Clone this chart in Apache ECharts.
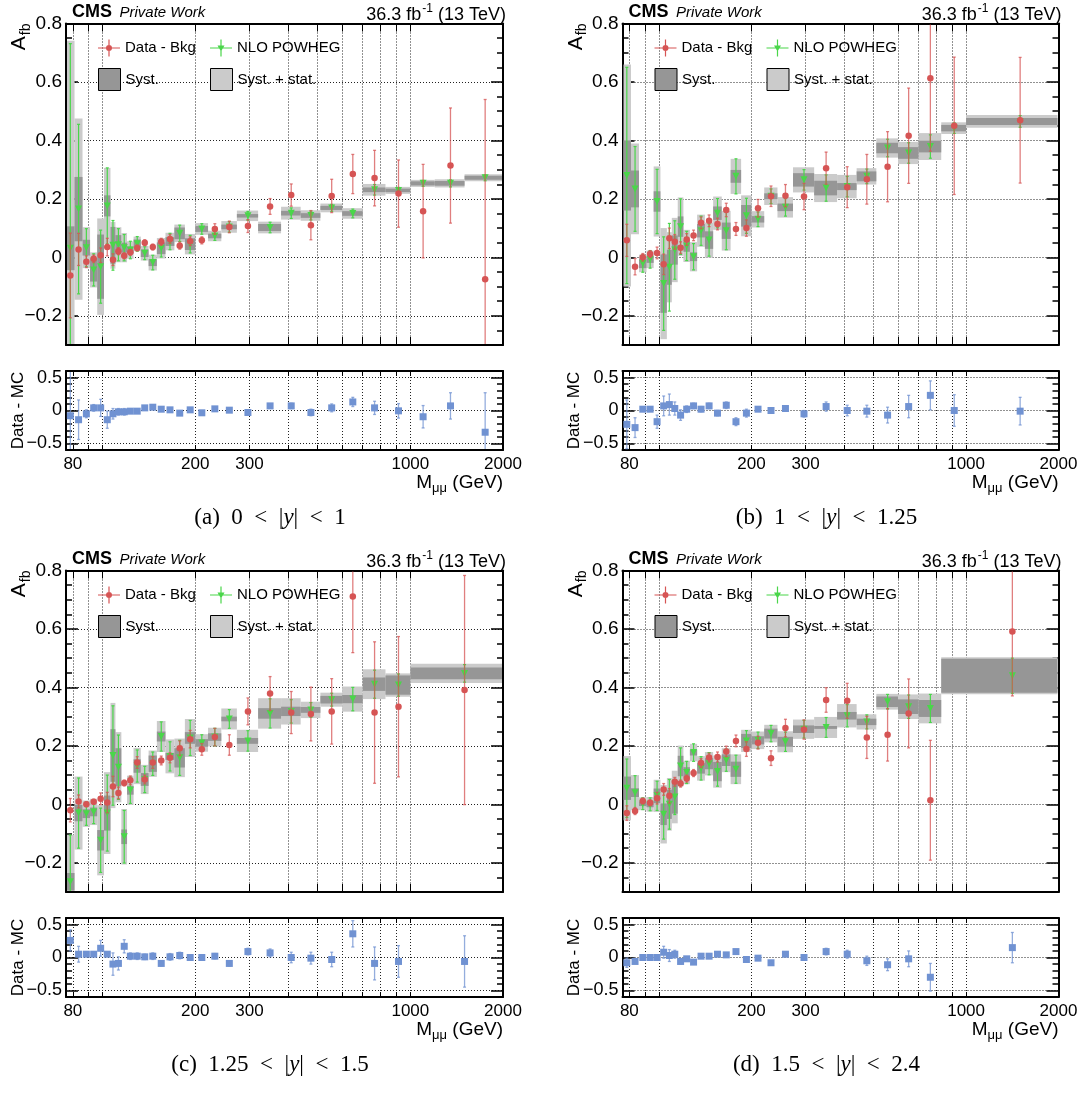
<!DOCTYPE html>
<html><head><meta charset="utf-8">
<script src="https://cdn.jsdelivr.net/npm/echarts@6/dist/echarts.min.js"></script>
<style>html,body{margin:0;padding:0;background:#fff}#c{width:1083px;height:1093px}</style>
</head><body><div id="c"></div><script>
// ---------------- data ----------------
const edgesA = [76,81,86,91,96,101,106,110,115,120,126,133,141,150,160,171,185,200,220,243,273,320,380,440,510,600,700,830,1000,1200,1500,2000];
const edgesB = [76,81,86,91,96,101,106,110,115,120,126,133,141,150,160,171,185,200,220,243,273,320,380,440,510,600,700,830,1000,2000];
const edgesC = [76,81,86,91,96,101,106,110,115,120,126,133,141,150,160,171,185,200,220,243,273,320,380,440,510,600,700,830,1000,2000];
const edgesD = [76,81,86,91,96,101,106,110,115,120,126,133,141,150,160,171,185,200,220,243,273,320,380,440,510,600,700,830,2000];

const dataA = [-0.062,0.027,-0.015,-0.005,0.007,0.035,-0.008,0.021,0.005,0.017,0.032,0.05,0.035,0.053,0.063,0.04,0.055,0.058,0.097,0.104,0.107,0.174,0.213,0.11,0.21,0.285,0.271,0.218,0.158,0.314,-0.075];
const dataErrA = [0.145,0.055,0.02,0.013,0.025,0.03,0.02,0.012,0.01,0.01,0.01,0.01,0.01,0.012,0.015,0.012,0.015,0.012,0.018,0.02,0.022,0.027,0.038,0.05,0.057,0.067,0.095,0.115,0.16,0.197,0.615];
const mcA = [0.031,0.165,0.033,-0.043,-0.032,0.176,0.041,0.043,0.033,0.025,0.046,0.014,-0.018,0.031,0.054,0.082,0.045,0.097,0.073,0.104,0.142,0.102,0.151,0.143,0.169,0.15,0.231,0.229,0.253,0.253,0.272];
const mcErrA = [0.7,0.29,0.065,0.055,0.125,0.13,0.085,0.055,0.045,0.03,0.025,0.022,0.025,0.03,0.028,0.028,0.03,0.018,0.015,0.018,0.015,0.018,0.018,0.015,0.012,0.015,0.018,0.01,0.01,0.012,0.01];
const systA = [0.075,0.11,0.027,0.04,0.11,0.036,0.063,0.033,0.017,0.012,0.015,0.013,0.012,0.02,0.015,0.02,0.02,0.01,0.008,0.008,0.006,0.012,0.008,0.008,0.007,0.008,0.008,0.006,0.007,0.008,0.007];
const totA = [0.71,0.31,0.07,0.06,0.165,0.13,0.08,0.06,0.05,0.03,0.025,0.025,0.027,0.035,0.03,0.03,0.035,0.02,0.018,0.02,0.018,0.02,0.022,0.018,0.015,0.018,0.02,0.012,0.012,0.014,0.012];
const ratioA = [-0.08,-0.14,-0.05,0.04,0.04,-0.14,-0.05,-0.02,-0.02,-0.01,-0.01,0.04,0.05,0.02,0.01,-0.04,0.01,-0.035,0.025,0.005,-0.03,0.07,0.07,-0.03,0.04,0.13,0.04,-0.005,-0.095,0.07,-0.33];
const ratioErrA = [0.7,0.3,0.06,0.05,0.13,0.13,0.08,0.05,0.05,0.03,0.02,0.02,0.02,0.02,0.02,0.02,0.02,0.02,0.02,0.02,0.02,0.03,0.04,0.05,0.06,0.07,0.1,0.11,0.17,0.2,0.6];

const dataB = [0.058,-0.032,0.0,0.011,0.015,-0.024,0.065,0.053,0.033,0.061,0.075,0.118,0.125,0.114,0.162,0.097,0.1,0.168,0.209,0.211,0.208,0.305,0.24,0.267,0.31,0.416,0.613,0.45,0.469];
const dataErrB = [0.055,0.028,0.013,0.012,0.02,0.035,0.035,0.025,0.02,0.02,0.018,0.02,0.02,0.02,0.023,0.022,0.028,0.03,0.035,0.038,0.045,0.055,0.07,0.085,0.12,0.163,0.25,0.235,0.215];
const mcB = [0.28,0.234,-0.021,-0.007,0.191,-0.09,-0.034,0.025,0.105,0.039,0.002,0.091,0.059,0.151,0.091,0.277,0.142,0.13,0.209,0.171,0.265,0.237,0.242,0.277,0.374,0.357,0.379,0.442,0.465];
const mcErrB = [0.37,0.145,0.03,0.03,0.11,0.16,0.15,0.1,0.095,0.05,0.045,0.05,0.055,0.05,0.065,0.06,0.06,0.025,0.025,0.03,0.035,0.045,0.035,0.025,0.03,0.035,0.04,0.018,0.02];
const systB = [0.12,0.063,0.016,0.012,0.035,0.1,0.06,0.05,0.035,0.02,0.015,0.023,0.03,0.023,0.028,0.022,0.037,0.011,0.01,0.013,0.023,0.025,0.012,0.017,0.018,0.02,0.02,0.011,0.012];
const totB = [0.38,0.155,0.03,0.03,0.12,0.19,0.12,0.11,0.1,0.055,0.05,0.055,0.06,0.057,0.068,0.06,0.07,0.028,0.03,0.035,0.043,0.048,0.04,0.028,0.033,0.038,0.046,0.02,0.022];
const ratioB = [-0.21,-0.26,0.02,0.02,-0.17,0.07,0.09,0.03,-0.07,0.02,0.07,0.02,0.07,-0.04,0.08,-0.17,-0.04,0.02,0.0,0.03,-0.05,0.06,0.0,-0.01,-0.07,0.06,0.23,0.0,-0.01];
const ratioErrB = [0.37,0.15,0.03,0.03,0.1,0.15,0.16,0.1,0.08,0.05,0.04,0.04,0.04,0.04,0.05,0.06,0.06,0.03,0.04,0.04,0.05,0.07,0.08,0.09,0.12,0.17,0.22,0.24,0.21];

const dataC = [-0.02,0.01,0.0,0.009,0.019,0.006,0.061,0.039,0.073,0.082,0.143,0.085,0.143,0.15,0.159,0.192,0.223,0.188,0.23,0.203,0.318,0.379,0.314,0.309,0.318,0.711,0.314,0.334,0.391];
const dataErrC = [0.04,0.022,0.008,0.008,0.02,0.035,0.035,0.02,0.01,0.015,0.02,0.015,0.02,0.015,0.017,0.025,0.03,0.02,0.03,0.035,0.046,0.058,0.072,0.092,0.112,0.192,0.242,0.24,0.392];
const mcC = [-0.265,-0.03,-0.032,-0.026,-0.123,-0.03,0.167,0.127,-0.111,0.048,0.131,0.085,0.139,0.232,0.164,0.159,0.227,0.21,0.23,0.292,0.217,0.311,0.318,0.323,0.358,0.36,0.411,0.408,0.448];
const mcErrC = [0.16,0.12,0.04,0.04,0.11,0.13,0.17,0.11,0.09,0.045,0.055,0.045,0.04,0.05,0.05,0.06,0.06,0.028,0.03,0.032,0.035,0.05,0.04,0.025,0.022,0.04,0.048,0.038,0.03];
const systC = [0.03,0.028,0.015,0.015,0.035,0.06,0.09,0.065,0.025,0.015,0.023,0.022,0.028,0.017,0.012,0.033,0.02,0.013,0.013,0.008,0.01,0.018,0.016,0.01,0.013,0.014,0.023,0.033,0.02];
const totC = [0.16,0.125,0.045,0.045,0.12,0.14,0.18,0.12,0.095,0.05,0.062,0.05,0.045,0.053,0.058,0.066,0.065,0.03,0.032,0.036,0.038,0.052,0.045,0.028,0.024,0.043,0.051,0.04,0.033];
const ratioC = [0.26,0.05,0.05,0.05,0.14,0.05,-0.1,-0.09,0.17,0.02,0.02,0.01,0.02,-0.09,0.01,0.03,0.0,0.0,0.02,-0.09,0.09,0.07,0.0,-0.01,-0.03,0.36,-0.09,-0.06,-0.06];
const ratioErrC = [0.16,0.12,0.02,0.02,0.12,0.03,0.17,0.1,0.1,0.05,0.05,0.04,0.05,0.04,0.05,0.05,0.03,0.03,0.04,0.04,0.05,0.06,0.08,0.09,0.11,0.2,0.25,0.24,0.39];

const dataD = [-0.03,-0.023,0.011,0.005,0.021,0.051,0.029,0.077,0.071,0.088,0.107,0.141,0.16,0.162,0.181,0.217,0.189,0.211,0.158,0.261,0.256,0.357,0.354,0.229,0.238,0.311,0.014,0.591];
const dataErrD = [0.025,0.012,0.01,0.01,0.02,0.02,0.025,0.015,0.012,0.012,0.012,0.015,0.015,0.017,0.018,0.02,0.025,0.022,0.025,0.03,0.033,0.042,0.06,0.072,0.09,0.118,0.205,0.22];
const mcD = [0.055,0.04,0.002,0.0,0.029,-0.034,0.0,0.025,0.131,0.109,0.177,0.123,0.139,0.112,0.151,0.12,0.217,0.219,0.242,0.214,0.257,0.263,0.303,0.282,0.351,0.334,0.328,0.44];
const mcErrD = [0.1,0.058,0.02,0.022,0.05,0.085,0.085,0.06,0.062,0.038,0.03,0.04,0.038,0.05,0.038,0.048,0.035,0.028,0.028,0.033,0.03,0.034,0.038,0.024,0.025,0.04,0.048,0.06];
const systD = [0.04,0.015,0.008,0.01,0.025,0.037,0.05,0.057,0.035,0.018,0.01,0.018,0.019,0.033,0.02,0.026,0.024,0.014,0.017,0.017,0.013,0.005,0.013,0.011,0.018,0.025,0.029,0.058];
const totD = [0.11,0.06,0.022,0.025,0.055,0.1,0.09,0.09,0.07,0.04,0.03,0.042,0.04,0.055,0.041,0.051,0.038,0.03,0.03,0.036,0.033,0.036,0.04,0.026,0.027,0.042,0.051,0.063];
const ratioD = [-0.08,-0.06,0.0,0.0,0.0,0.08,0.03,0.05,-0.06,-0.02,-0.07,0.02,0.02,0.05,0.04,0.09,-0.03,-0.01,-0.08,0.05,0.0,0.09,0.05,-0.05,-0.11,-0.02,-0.3,0.15];
const ratioErrD = [0.07,0.03,0.02,0.02,0.03,0.09,0.09,0.06,0.04,0.03,0.02,0.03,0.03,0.03,0.03,0.03,0.03,0.03,0.03,0.03,0.04,0.05,0.06,0.07,0.09,0.12,0.21,0.23];

const xTickValues = [80,90,100,200,300,400,500,600,700,800,900,1000,2000];
const xLabelValues = [80,200,300,1000,2000];
const yMainLabels = [-0.2,0,0.2,0.4,0.6,0.8];
const yRatioLabels = [-0.5,0,0.5];
const captions = [['(a)','0','1'],['(b)','1','1.25'],['(c)','1.25','1.5'],['(d)','1.5','2.4']];

// ---------------- styling / layout ----------------
const FONT = '"Liberation Sans", Arial, Helvetica, sans-serif';
const SERIF = '"Liberation Serif", "DejaVu Serif", serif';
const RED = '#d65454', GREEN = '#4ad64a', BLUE = '#7092d2', DARK = '#969696', LIGHT = '#cbcbcb';
const layout = [{L:66,T:23.5,W:437},{L:622.5,T:23.5,W:436},{L:66,T:570.5,W:437},{L:622.5,T:570.5,W:436}];
const MAIN_H = 321.5, RATIO_OFF = 347.5, RATIO_H = 79;

const panels = [
  {edges:edgesA,data:dataA,dataErr:dataErrA,mc:mcA,mcErr:mcErrA,syst:systA,tot:totA,ratio:ratioA,ratioErr:ratioErrA},
  {edges:edgesB,data:dataB,dataErr:dataErrB,mc:mcB,mcErr:mcErrB,syst:systB,tot:totB,ratio:ratioB,ratioErr:ratioErrB},
  {edges:edgesC,data:dataC,dataErr:dataErrC,mc:mcC,mcErr:mcErrC,syst:systC,tot:totC,ratio:ratioC,ratioErr:ratioErrC},
  {edges:edgesD,data:dataD,dataErr:dataErrD,mc:mcD,mcErr:mcErrD,syst:systD,tot:totD,ratio:ratioD,ratioErr:ratioErrD}
];

const yMainMinor = []; for (let i = -6; i <= 16; i++) yMainMinor.push(+(i * 0.05).toFixed(2));
const yRatioMinor = []; for (let i = -6; i <= 6; i++) yRatioMinor.push(+(i * 0.1).toFixed(2));

function fmtY(v) { if (Math.abs(v) < 1e-9) return '0'; return v < 0 ? '\u2212' + (+(-v).toFixed(2)) : '' + (+v.toFixed(2)); }

function renderBox(params, api) {
  const lo = api.value(0), hi = api.value(1), c = api.value(2), h = api.value(3);
  const p1 = api.coord([lo, c + h]), p2 = api.coord([hi, c - h]);
  const cs = params.coordSys;
  const r = echarts.graphic.clipRectByRect(
    {x: p1[0], y: p1[1], width: p2[0] - p1[0], height: p2[1] - p1[1]},
    {x: cs.x + 1, y: cs.y + 1, width: cs.width - 2, height: cs.height - 2});
  if (!r) return null;
  return {type: 'rect', shape: r, style: {fill: api.visual('color')}};
}
function makeErr(color, width, cap) {
  return function (params, api) {
    const x = api.value(0), y = api.value(1), e = api.value(2);
    const cs = params.coordSys;
    const pt = api.coord([x, y + e]), pb = api.coord([x, y - e]);
    const y0 = Math.max(pt[1], cs.y + 1), y1 = Math.min(pb[1], cs.y + cs.height - 1);
    if (!(y1 > y0)) return null;
    const st = {stroke: color, lineWidth: width};
    const ch = [{type: 'line', shape: {x1: pt[0], y1: y0, x2: pt[0], y2: y1}, style: st}];
    if (pt[1] >= cs.y) ch.push({type: 'line', shape: {x1: pt[0] - cap, y1: pt[1], x2: pt[0] + cap, y2: pt[1]}, style: st});
    if (pb[1] <= cs.y + cs.height) ch.push({type: 'line', shape: {x1: pb[0] - cap, y1: pb[1], x2: pb[0] + cap, y2: pb[1]}, style: st});
    return {type: 'group', children: ch};
  };
}

const grids = [], xAxes = [], yAxes = [], series = [], legends = [], graphics = [];

function addAxes(k, isRatio) {
  xAxes.push({type: 'log', logBase: 10, gridIndex: k, min: 76, max: 2000, position: 'bottom',
    axisLine: {show: true, onZero: false, lineStyle: {color: '#000', width: 2}},
    axisTick: {show: true, inside: true, length: isRatio ? 5 : 8, customValues: xTickValues, lineStyle: {color: '#000', width: 1}},
    axisLabel: {show: isRatio, customValues: xLabelValues, formatter: v => String(Math.round(v)), fontSize: 17, fontFamily: FONT, color: '#000', margin: 6},
    splitLine: {show: true, lineStyle: {color: '#222', type: [1, 2], width: 1}}});
  xAxes.push({type: 'log', logBase: 10, gridIndex: k, min: 76, max: 2000, position: 'top',
    axisLine: {show: true, onZero: false, lineStyle: {color: '#000', width: 2}},
    axisTick: {show: true, inside: true, length: isRatio ? 5 : 8, customValues: xTickValues, lineStyle: {color: '#000', width: 1}},
    axisLabel: {show: false}, splitLine: {show: false}});
  const min = isRatio ? -0.6 : -0.3, max = isRatio ? 0.6 : 0.8;
  const majors = isRatio ? yRatioLabels : yMainLabels;
  const minors = isRatio ? yRatioMinor : yMainMinor;
  const fs = isRatio ? 18 : 19;
  const base = {type: 'value', gridIndex: k, min: min, max: max};
  yAxes.push(Object.assign({}, base, {position: 'left',
    axisLine: {show: true, onZero: false, lineStyle: {color: '#000', width: 2}},
    axisTick: {show: true, inside: true, length: 12, customValues: majors, lineStyle: {color: '#000', width: 1.5}},
    axisLabel: {show: true, customValues: majors, formatter: fmtY, fontSize: fs, fontFamily: FONT, color: '#000', margin: 4},
    splitLine: {show: true, lineStyle: {color: '#222', type: [1, 2], width: 1}}}));
  yAxes.push(Object.assign({}, base, {position: 'left', axisLine: {show: false},
    axisTick: {show: true, inside: true, length: 6, customValues: minors, lineStyle: {color: '#000', width: 1.5}},
    axisLabel: {show: false}, splitLine: {show: false}}));
  yAxes.push(Object.assign({}, base, {position: 'right',
    axisLine: {show: true, onZero: false, lineStyle: {color: '#000', width: 2}},
    axisTick: {show: true, inside: true, length: 12, customValues: majors, lineStyle: {color: '#000', width: 1.5}},
    axisLabel: {show: false}, splitLine: {show: false}}));
  yAxes.push(Object.assign({}, base, {position: 'right', axisLine: {show: false},
    axisTick: {show: true, inside: true, length: 6, customValues: minors, lineStyle: {color: '#000', width: 1.5}},
    axisLabel: {show: false}, splitLine: {show: false}}));
}

const dataIcon = 'path://M0,7.9L22,7.9L22,9.1L0,9.1Z M10.4,0L11.6,0L11.6,17L10.4,17Z M14,8.5A3,3 0 1 1 8,8.5A3,3 0 1 1 14,8.5Z';
const mcIcon = 'path://M0,7.9L22,7.9L22,9.1L0,9.1Z M10.4,0L11.6,0L11.6,17L10.4,17Z M7.5,6L14.5,6L11,12Z';

panels.forEach((p, i) => {
  const {L, T, W} = layout[i];
  const gm = 2 * i, gr = 2 * i + 1;
  grids.push({left: L, top: T, width: W, height: MAIN_H, containLabel: false});
  grids.push({left: L, top: T + RATIO_OFF, width: W, height: RATIO_H, containLabel: false});
  addAxes(gm, false);
  addAxes(gr, true);
  const xm = 2 * gm, ym = 4 * gm, xr = 2 * gr, yr = 4 * gr;
  const n = p.data.length;
  const lo = [], hi = [], mid = [];
  for (let j = 0; j < n; j++) { lo.push(p.edges[j]); hi.push(p.edges[j + 1]); mid.push((p.edges[j] + p.edges[j + 1]) / 2); }
  series.push({type: 'custom', name: 'Syst. + stat.', xAxisIndex: xm, yAxisIndex: ym, z: 2,
    itemStyle: {color: LIGHT}, encode: {x: [0, 1], y: 2}, renderItem: renderBox,
    data: lo.map((l, j) => [l, hi[j], p.mc[j], p.tot[j]])});
  series.push({type: 'custom', name: 'Syst.', xAxisIndex: xm, yAxisIndex: ym, z: 3,
    itemStyle: {color: DARK}, encode: {x: [0, 1], y: 2}, renderItem: renderBox,
    data: lo.map((l, j) => [l, hi[j], p.mc[j], p.syst[j]])});
  series.push({type: 'scatter', name: 'NLO POWHEG', xAxisIndex: xm, yAxisIndex: ym, z: 5,
    symbol: 'triangle', symbolRotate: 180, symbolSize: 7, itemStyle: {color: GREEN, opacity: 1},
    data: mid.map((m, j) => [m, p.mc[j]])});
  series.push({type: 'custom', name: 'NLO POWHEG', xAxisIndex: xm, yAxisIndex: ym, z: 4,
    itemStyle: {color: GREEN}, encode: {x: 0, y: 1}, renderItem: makeErr(GREEN, 1.2, 1.5),
    data: mid.map((m, j) => [m, p.mc[j], p.mcErr[j]])});
  series.push({type: 'scatter', name: 'Data - Bkg', xAxisIndex: xm, yAxisIndex: ym, z: 7,
    symbol: 'circle', symbolSize: 6.5, itemStyle: {color: RED, opacity: 1},
    data: mid.map((m, j) => [m, p.data[j]])});
  series.push({type: 'custom', name: 'Data - Bkg', xAxisIndex: xm, yAxisIndex: ym, z: 6,
    itemStyle: {color: RED}, encode: {x: 0, y: 1}, renderItem: makeErr('rgba(214,84,84,0.75)', 1.3, 1.5),
    data: mid.map((m, j) => [m, p.data[j], p.dataErr[j]])});
  series.push({type: 'custom', name: 'Data - MC', xAxisIndex: xr, yAxisIndex: yr, z: 6,
    itemStyle: {color: BLUE}, encode: {x: 0, y: 1}, renderItem: makeErr('rgba(112,146,210,0.75)', 1.3, 1.5),
    data: mid.map((m, j) => [m, p.ratio[j], p.ratioErr[j]])});
  series.push({type: 'scatter', name: 'Data - MC', xAxisIndex: xr, yAxisIndex: yr, z: 7,
    symbol: 'rect', symbolSize: 7, itemStyle: {color: BLUE, opacity: 1},
    data: mid.map((m, j) => [m, p.ratio[j]])});

  // legends
  const lt = {fontSize: 15, fontFamily: FONT, color: '#000'};
  legends.push({left: L + 32, top: T + 16, padding: 0, itemWidth: 22, itemHeight: 17, selectedMode: false, textStyle: lt,
    data: [{name: 'Data - Bkg', icon: dataIcon}]});
  legends.push({left: L + 144, top: T + 16, padding: 0, itemWidth: 22, itemHeight: 17, selectedMode: false, textStyle: lt,
    data: [{name: 'NLO POWHEG', icon: mcIcon}]});
  legends.push({left: L + 32, top: T + 44.5, padding: 0, itemWidth: 22, itemHeight: 22, selectedMode: false, textStyle: lt,
    data: [{name: 'Syst.', icon: 'rect', itemStyle: {color: DARK, borderColor: '#000', borderWidth: 1}}]});
  legends.push({left: L + 144, top: T + 44.5, padding: 0, itemWidth: 22, itemHeight: 22, selectedMode: false, textStyle: lt,
    data: [{name: 'Syst. + stat.', icon: 'rect', itemStyle: {color: LIGHT, borderColor: '#000', borderWidth: 1}}]});

  // texts
  const R = L + W, RT = T + RATIO_OFF;
  graphics.push({type: 'text', x: L + 6, y: T - 11.5, z: 100, style: {text: 'CMS', fontSize: 18, fontWeight: 'bold', fontFamily: FONT, fill: '#000', align: 'left', verticalAlign: 'middle'}});
  graphics.push({type: 'text', x: L + 53.5, y: T - 10.5, z: 100, style: {text: 'Private Work', fontSize: 15, fontStyle: 'italic', fontFamily: FONT, fill: '#000', align: 'left', verticalAlign: 'middle'}});
  graphics.push({type: 'text', x: R + 3, y: T - 12, z: 100, style: {text: '{a|36.3 fb}{s|-1}{a| (13 TeV)}', align: 'right', verticalAlign: 'middle', fill: '#000',
    rich: {a: {fontSize: 18, fontFamily: FONT, fill: '#000', verticalAlign: 'top', padding: [4, 0, 0, 0], lineHeight: 18},
           s: {fontSize: 12, fontFamily: FONT, fill: '#000', verticalAlign: 'top', padding: [0, 0, 0, 1], lineHeight: 12}}}});
  graphics.push({type: 'text', x: L - 46, y: T, rotation: Math.PI / 2, z: 100, style: {text: '{a|A}{s|fb}', align: 'right', verticalAlign: 'middle', fill: '#000',
    rich: {a: {fontSize: 21, fontFamily: FONT, fill: '#000', verticalAlign: 'top', lineHeight: 22},
           s: {fontSize: 14, fontFamily: FONT, fill: '#000', verticalAlign: 'top', lineHeight: 14, padding: [10, 0, 0, 1]}}}});
  graphics.push({type: 'text', x: L - 48, y: RT + RATIO_H / 2, rotation: Math.PI / 2, z: 100, style: {text: 'Data - MC', fontSize: 17, fontFamily: FONT, fill: '#000', align: 'center', verticalAlign: 'middle'}});
  graphics.push({type: 'text', x: R, y: RT + RATIO_H + 33, z: 100, style: {text: '{a|M}{s|\u03bc\u03bc}{a| (GeV)}', align: 'right', verticalAlign: 'middle', fill: '#000',
    rich: {a: {fontSize: 19, fontFamily: FONT, fill: '#000', verticalAlign: 'top', lineHeight: 20},
           s: {fontSize: 13, fontFamily: FONT, fill: '#000', verticalAlign: 'top', lineHeight: 13, padding: [9, 0, 0, 0]}}}});
  const c = captions[i];
  const sp = '\u2002';
  graphics.push({type: 'text', x: L + 204, y: RT + RATIO_H + 68, z: 100, style: {
    text: '{r|' + c[0] + sp + c[1] + sp + '<' + sp + '|}{i|y}{r||' + sp + '<' + sp + c[2] + '}', align: 'center', verticalAlign: 'middle', fill: '#000',
    rich: {r: {fontSize: 23, fontFamily: SERIF, fill: '#000'}, i: {fontSize: 23, fontFamily: SERIF, fontStyle: 'italic', fill: '#000'}}}});
});

const chart = echarts.init(document.getElementById('c'), null, {renderer: 'canvas'});
chart.setOption({
  backgroundColor: '#fff',
  animation: false,
  grid: grids, xAxis: xAxes, yAxis: yAxes, series: series, legend: legends, graphic: graphics
});
</script></body></html>
